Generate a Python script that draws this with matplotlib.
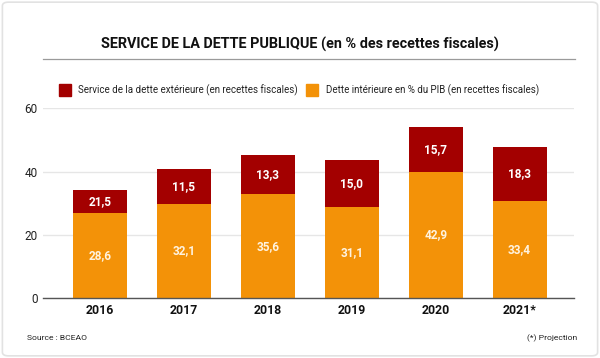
import matplotlib
matplotlib.use("Agg")
import matplotlib.pyplot as plt
from matplotlib.patches import Rectangle, FancyBboxPatch
from matplotlib.lines import Line2D
import numpy as np

plt.rcParams['font.family'] = ['Roboto', 'DejaVu Sans']

# data (bar heights as drawn) and the printed labels
years = ["2016", "2017", "2018", "2019", "2020", "2021*"]
interieure = [26.8, 29.8, 32.9, 28.9, 40.0, 30.8]
exterieure = [7.4, 10.9, 12.4, 14.9, 14.2, 16.9]
lab_interieure = ["28,6", "32,1", "35,6", "31,1", "42,9", "33,4"]
lab_exterieure = ["21,5", "11,5", "13,3", "15,0", "15,7", "18,3"]
yticks = [0, 20, 40, 60]

red = "#a30000"
orange = "#f39208"

fig = plt.figure(figsize=(6, 3.58), dpi=100)
fig.patch.set_facecolor("white")

# light frame around the whole graphic
fig.patches.append(FancyBboxPatch((0.004, 0.006), 0.992, 0.988,
                                  boxstyle="round,pad=0,rounding_size=0.01",
                                  transform=fig.transFigure, fill=False,
                                  edgecolor="#e2e2e2", linewidth=1.2))

ax = fig.add_axes([0.0717, 0.1668, 0.8853, 0.5307])
x = np.arange(len(years))
w = 0.64
ax.bar(x, interieure, w, color=orange, zorder=3)
ax.bar(x, exterieure, w, bottom=interieure, color=red, zorder=3)

for i in range(len(years)):
    ax.text(x[i], interieure[i] / 2, lab_interieure[i], ha="center", va="center",
            color="#fff3e0", fontsize=8.5, fontweight="bold", zorder=4)
    ax.text(x[i], interieure[i] + exterieure[i] / 2, lab_exterieure[i], ha="center",
            va="center", color="white", fontsize=8.5, fontweight="bold", zorder=4)

ax.set_xlim(-0.68, 5.65)
ax.set_ylim(0, 60)
ax.set_yticks(yticks)
ax.set_yticklabels([str(v) for v in yticks], fontsize=8.5, color="#222222")
ax.set_xticks(x)
ax.set_xticklabels(years, fontsize=8.8, fontweight="bold", color="#111111")
ax.tick_params(length=0, pad=4)
ax.tick_params(axis="y", pad=4)
for s in ["top", "right", "left"]:
    ax.spines[s].set_visible(False)
ax.spines["bottom"].set_color("#555555")
ax.spines["bottom"].set_linewidth(1.0)
ax.spines["bottom"].set_zorder(5)
ax.grid(axis="y", color="#e6e6e6", linewidth=1.0, zorder=0)
ax.set_axisbelow(True)

# title and rule
fig.text(0.5, 1 - 44 / 358, "SERVICE DE LA DETTE PUBLIQUE (en % des recettes fiscales)",
         ha="center", va="center", fontsize=10.4, fontweight="bold", color="#111111")
fig.add_artist(Line2D([43 / 600, 575 / 600], [1 - 59 / 358, 1 - 59 / 358],
                      transform=fig.transFigure, color="#9a9a9a", linewidth=0.9))

# legend
ly = 1 - 90 / 358
for sx, tx, col, txt in [(59, 78, red, "Service de la dette extérieure (en recettes fiscales)"),
                         (306, 326, orange, "Dette intérieure en % du PIB (en recettes fiscales)")]:
    fig.patches.append(Rectangle((sx / 600, ly - 6 / 358), 12 / 600, 12 / 358,
                                 transform=fig.transFigure, color=col))
    fig.text(tx / 600, ly, txt, ha="left", va="center", fontsize=7.0, color="#222222")

# footnotes
fig.text(27 / 600, 1 - 338 / 358, "Source : BCEAO", ha="left", va="center",
         fontsize=6.1, color="#222222")
fig.text(577 / 600, 1 - 338 / 358, "(*) Projection", ha="right", va="center",
         fontsize=6.1, color="#222222")

fig.savefig("out.png", dpi=100)
